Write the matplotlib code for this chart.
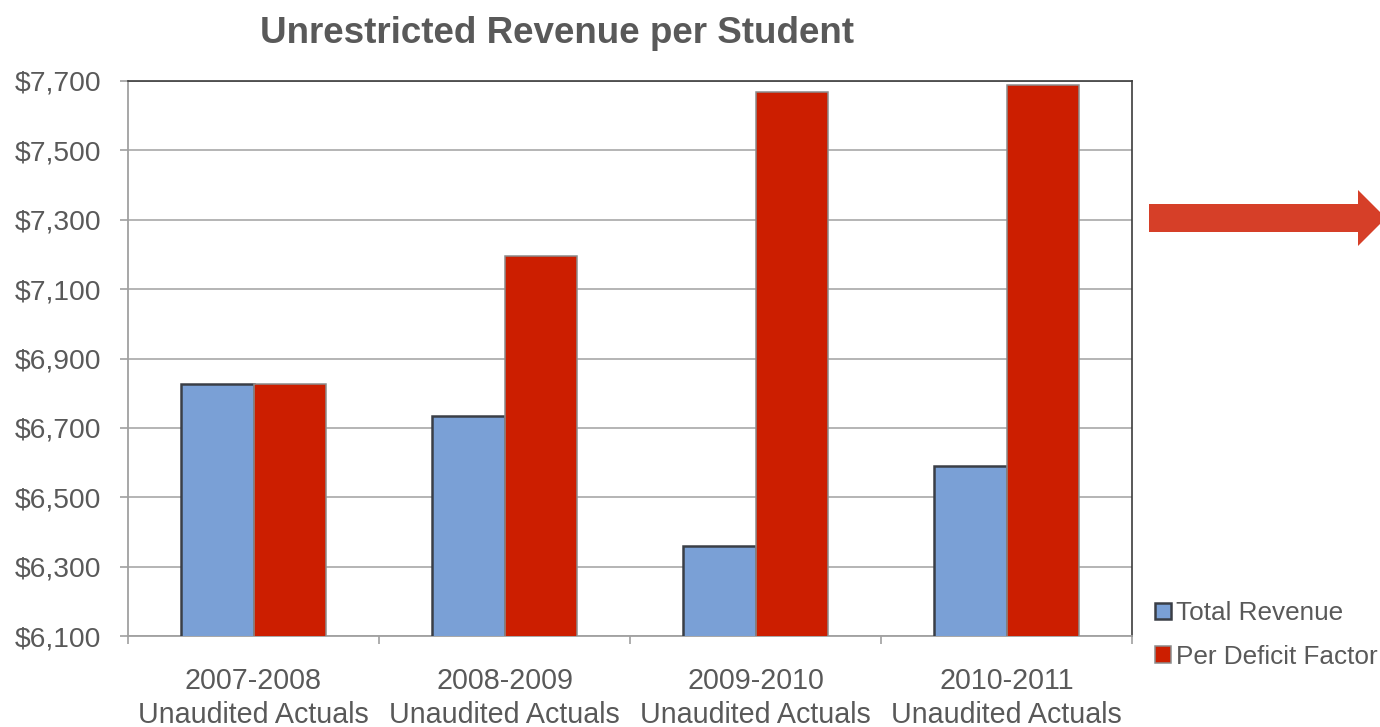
import matplotlib
matplotlib.use("Agg")
import matplotlib.pyplot as plt
from matplotlib.patches import Polygon, Patch
import numpy as np

plt.rcParams['font.family'] = ['Liberation Sans', 'DejaVu Sans']

categories = ["2007-2008\nUnaudited Actuals", "2008-2009\nUnaudited Actuals",
              "2009-2010\nUnaudited Actuals", "2010-2011\nUnaudited Actuals"]
total_revenue = [6827, 6735, 6360, 6590]
per_deficit_factor = [6826, 7195, 7667, 7689]
series_names = ["Total Revenue", "Per Deficit Factor"]
y_ticks = [6100, 6300, 6500, 6700, 6900, 7100, 7300, 7500, 7700]

W, H = 1380, 727
fig = plt.figure(figsize=(W / 100, H / 100), dpi=100)
ax = fig.add_axes([128 / W, 1 - 636 / H, (1132 - 128) / W, (636 - 81) / H])

text_color = '#595959'
blue = '#7aa0d6'
red = '#cc1e00'

x = np.arange(len(categories))
bw = 0.287
b1 = ax.bar(x - bw / 2, total_revenue, bw, color=blue, edgecolor='#3a3e46',
            linewidth=1.8, zorder=3)
b2 = ax.bar(x + bw / 2, per_deficit_factor, bw, color=red, edgecolor='#8c8c8c',
            linewidth=1.1, zorder=3)

ax.set_ylim(6100, 7700)
ax.set_xlim(-0.5, len(categories) - 0.5)
ax.set_yticks(y_ticks)
ax.set_yticklabels([f"${v:,}" for v in y_ticks])
ax.yaxis.grid(True, color='#a8a8a8', linewidth=1.2, zorder=0)
ax.set_axisbelow(True)

ax.set_xticks(x)
ax.set_xticklabels(categories, linespacing=1.3)
ax.set_xticks(np.arange(-0.5, len(categories), 1.0), minor=True)
ax.tick_params(axis='x', which='major', length=0, pad=22, labelsize=20.6,
               labelcolor=text_color)
ax.tick_params(axis='x', which='minor', length=6, width=1.2, color='#a0a0a0',
               direction='out')
ax.tick_params(axis='y', length=6, width=1.2, color='#a0a0a0', pad=13,
               labelsize=20.3, labelcolor=text_color)

for s in ['left', 'bottom']:
    ax.spines[s].set_color('#a0a0a0')
    ax.spines[s].set_linewidth(1.3)
for s in ['top', 'right']:
    ax.spines[s].set_color('#3c3c3c')
    ax.spines[s].set_linewidth(1.2)

fig.text(557.5 / W, 1 - 43 / H, "Unrestricted Revenue per Student",
         ha='center', va='baseline', fontsize=26.5, fontweight='bold',
         color=text_color)

# Block arrow on the right
pts_px = [(1149, 204), (1358, 204), (1358, 190), (1386, 218), (1358, 246),
          (1358, 232), (1149, 232)]
pts = [(px / W, 1 - py / H) for px, py in pts_px]
fig.patches.append(Polygon(pts, closed=True, transform=fig.transFigure,
                           facecolor='#d63f28', edgecolor='none'))

handles = [Patch(facecolor=blue, edgecolor='#3a3e46', linewidth=1.8),
           Patch(facecolor=red, edgecolor='#8c8c8c', linewidth=1.1)]
fig.legend(handles, series_names, loc='upper left',
           bbox_to_anchor=(1155 / W, 1 - 601 / H), frameon=False,
           fontsize=18.8, labelcolor=text_color, handlelength=0.6,
           handleheight=0.6, handletextpad=0.2, labelspacing=0.75,
           borderpad=0, borderaxespad=0)

fig.savefig("out.png", dpi=100)
